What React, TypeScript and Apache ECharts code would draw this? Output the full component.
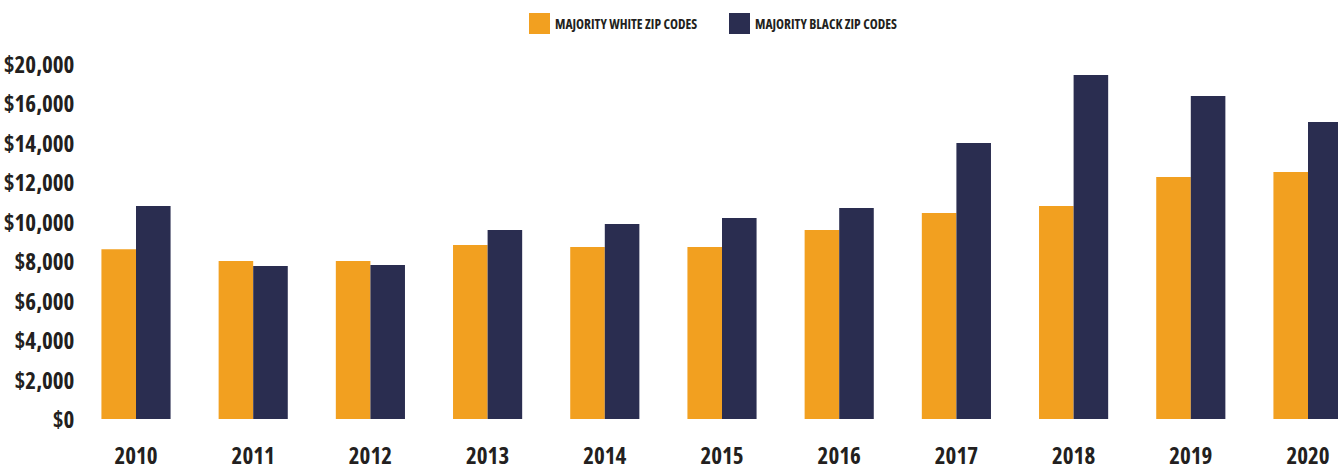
import React, { useEffect, useRef } from "react";
import * as echarts from "echarts";

const years = ["2010", "2011", "2012", "2013", "2014", "2015", "2016", "2017", "2018", "2019", "2020"];
const whiteZip = [8600, 8000, 8000, 8810, 8710, 8710, 9570, 10430, 10780, 12250, 12510];
const blackZip = [10790, 7750, 7800, 9570, 9870, 10180, 10680, 13970, 17420, 16350, 15040];
const tickValues = [0, 2000, 4000, 6000, 8000, 10000, 12000, 14000, 16000, 18000];
const tickLabels = ["$0", "$2,000", "$4,000", "$6,000", "$8,000", "$10,000", "$12,000", "$14,000", "$16,000", "$20,000"];
const seriesNames = ["MAJORITY WHITE ZIP CODES", "MAJORITY BLACK ZIP CODES"];

// Open Sans (variable width) squeezed to its condensed width via font-stretch
const FONT = "'Open Sans';font-stretch:condensed";
const TEXT = "#231f20";

export default function App() {
  const ref = useRef<HTMLDivElement>(null);
  useEffect(() => {
    document.body.style.margin = "0";
    const chart = echarts.init(ref.current!, undefined, { renderer: "svg" });
    const legendText = { fontFamily: FONT, fontWeight: "bold", fontSize: 13.5, lineHeight: 21, color: TEXT };
    chart.setOption({
      animation: false,
      legend: [
        { top: 8, left: 524, itemWidth: 21, itemHeight: 21, itemGap: 6, icon: "rect", textStyle: legendText, data: [seriesNames[0]] },
        { top: 8, left: 724, itemWidth: 21, itemHeight: 21, itemGap: 6, icon: "rect", textStyle: legendText, data: [seriesNames[1]] },
      ],
      grid: { left: 77.4, top: 63.5, width: 1289.2, height: 355.5, containLabel: false, outerBoundsMode: "none" },
      xAxis: {
        type: "category",
        data: years,
        axisLine: { show: false },
        axisTick: { show: false },
        axisLabel: { interval: 0, margin: 27, lineHeight: 18, fontFamily: FONT, fontWeight: "bold", fontSize: 23, color: TEXT },
      },
      yAxis: {
        type: "value",
        min: 0,
        max: 18000,
        interval: 2000,
        splitLine: { show: false },
        axisLine: { show: false },
        axisTick: { show: false },
        axisLabel: {
          margin: 3,
          lineHeight: 23,
          fontFamily: FONT,
          fontWeight: "bold",
          fontSize: 23,
          color: TEXT,
          formatter: (v: number) => {
            const i = tickValues.indexOf(v);
            return i >= 0 ? tickLabels[i] : "";
          },
        },
      },
      series: [
        { name: seriesNames[0], type: "bar", data: whiteZip, itemStyle: { color: "#F2A020" }, barGap: "0%", barCategoryGap: "41%" },
        { name: seriesNames[1], type: "bar", data: blackZip, itemStyle: { color: "#2A2D50" }, barGap: "0%", barCategoryGap: "41%" },
      ],
    });
    return () => chart.dispose();
  }, []);
  return <div ref={ref} style={{ width: 1338, height: 464, overflow: "hidden" }} />;
}
